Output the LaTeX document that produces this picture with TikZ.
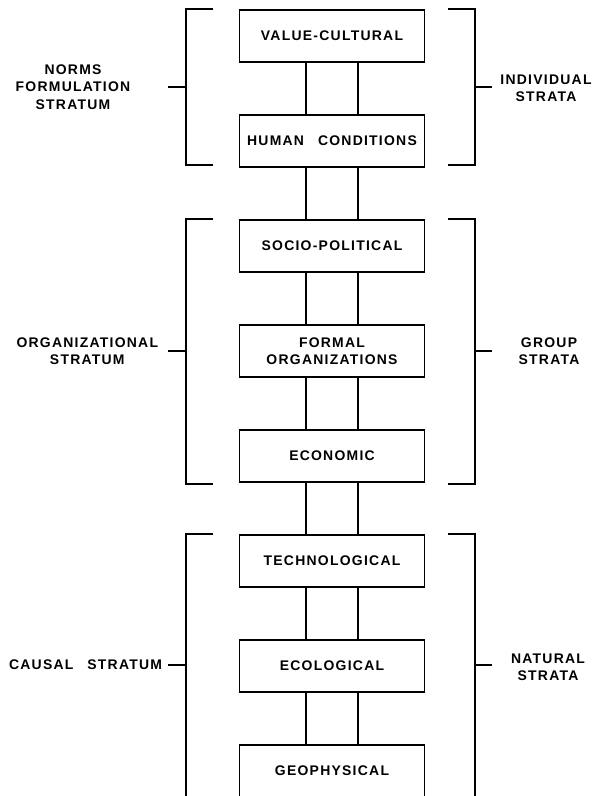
\documentclass[tikz,border=0pt]{standalone}
\usepackage{fontspec}
\setmainfont[LetterSpace=9]{Liberation Sans}

\begin{document}
\begin{tikzpicture}[x=1bp,y=-1bp,line width=1.2bp]
  \tikzstyle{every node}=[font=\bfseries\fontsize{14}{17.5}\selectfont, align=center];
  \tikzstyle{stratum}=[draw, minimum width=185bp, minimum height=52bp, inner sep=0pt];
  \useasboundingbox (0,0) rectangle (595,796);

  % the eight strata
  \path (332,36)  node[stratum] (vc)  {VALUE-CULTURAL};
  \path (332,141) node[stratum] (hc)  {HUMAN\quad CONDITIONS};
  \path (332,246) node[stratum] (sp)  {SOCIO-POLITICAL};
  \path (332,351) node[stratum] (fo)  {FORMAL\\ORGANIZATIONS};
  \path (332,456) node[stratum] (ec)  {ECONOMIC};
  \path (332,561) node[stratum] (te)  {TECHNOLOGICAL};
  \path (332,666) node[stratum] (eco) {ECOLOGICAL};
  \path (332,771) node[stratum] (geo) {GEOPHYSICAL};

  % double links
  \coordinate (l) at (306,0);
  \coordinate (r) at (358,0);
  \path[draw] (vc.south -| l) -- (hc.north -| l) (vc.south -| r) -- (hc.north -| r);
  \path[draw] (hc.south -| l) -- (sp.north -| l) (hc.south -| r) -- (sp.north -| r);
  \path[draw] (sp.south -| l) -- (fo.north -| l) (sp.south -| r) -- (fo.north -| r);
  \path[draw] (fo.south -| l) -- (ec.north -| l) (fo.south -| r) -- (ec.north -| r);
  \path[draw] (ec.south -| l) -- (te.north -| l) (ec.south -| r) -- (te.north -| r);
  \path[draw] (te.south -| l) -- (eco.north -| l) (te.south -| r) -- (eco.north -| r);
  \path[draw] (eco.south -| l) -- (geo.north -| l) (eco.south -| r) -- (geo.north -| r);

  % brackets, left side
  \path[draw] (213,9) -- (186,9) -- (186,165) -- (213,165) (168,87) -- (186,87);
  \path[draw] (213,219) -- (186,219) -- (186,484) -- (213,484) (168,351) -- (186,351);
  \path[draw] (213,534) -- (186,534) -- (186,800) (168,665) -- (186,665);
  % brackets, right side
  \path[draw] (448,9) -- (475,9) -- (475,165) -- (448,165) (475,87) -- (492,87);
  \path[draw] (448,219) -- (475,219) -- (475,484) -- (448,484) (475,351) -- (492,351);
  \path[draw] (448,534) -- (475,534) -- (475,800) (475,665) -- (492,665);

  % labels
  \path (73,87)   node (norms) {NORMS\\FORMULATION\\STRATUM};
  \path (162,351) node[anchor=east] (org) {ORGANIZATIONAL\\STRATUM};
  \path (166,665) node[anchor=east] (causal) {CAUSAL\quad STRATUM};
  \path (546,88)  node (indiv) {INDIVIDUAL\\STRATA};
  \path (549,351) node (group) {GROUP\\STRATA};
  \path (548,667) node (nat) {NATURAL\\STRATA};
\end{tikzpicture}
\end{document}
